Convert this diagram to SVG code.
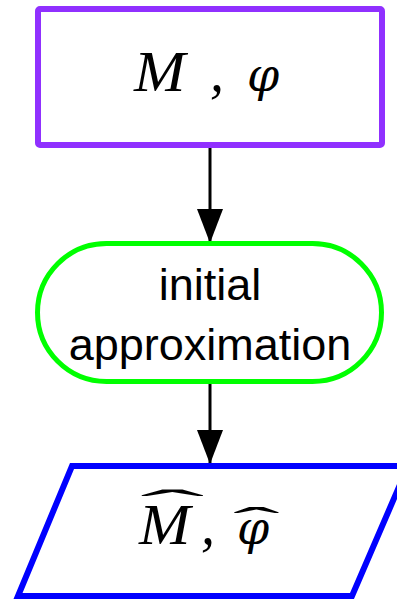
<svg xmlns="http://www.w3.org/2000/svg" width="397" height="603" viewBox="0 0 397 603">
  <defs>
    <marker id="arrow" markerWidth="34" markerHeight="26" refX="34" refY="13" orient="auto" markerUnits="userSpaceOnUse" viewBox="0 0 34 26">
      <path d="M0,0 L34,13 L0,26 Z" fill="#000"/>
    </marker>
  </defs>
  <style>
    .math { font-family: "Liberation Serif", "DejaVu Serif", serif; font-style: italic; fill: #000; }
    .phi { font-family: "DejaVu Serif", serif; font-style: italic; fill: #000; }
    .hat { font-family: "Liberation Serif", serif; fill: #000; }
    .label { font-family: "Liberation Sans", Arial, sans-serif; font-size: 45px; fill: #000; text-anchor: middle; }
    .edge { stroke: #000; stroke-width: 3; fill: none; }
  </style>
  <rect width="397" height="603" fill="#fff"/>

  <g id="connectors">
    <line class="edge" x1="210" y1="148" x2="210" y2="243" marker-end="url(#arrow)"/>
    <line class="edge" x1="210" y1="384" x2="210" y2="464" marker-end="url(#arrow)"/>
  </g>

  <g id="input">
    <rect x="38" y="9" width="344" height="136" rx="2" fill="#fff" stroke="#9030ff" stroke-width="6"/>
    <text class="math" transform="translate(134,91) scale(1.1,1)" font-size="56">M</text>
    <text class="math" x="210" y="91" font-size="56">,</text>
    <text class="phi" x="247" y="91" font-size="46">φ</text>
  </g>

  <g id="approx">
    <rect x="37.5" y="243.5" width="344" height="138" rx="69" ry="69" fill="#fff" stroke="#00ff00" stroke-width="5"/>
    <text class="label" x="210" y="300">initial</text>
    <text class="label" x="210" y="360">approximation</text>
  </g>

  <g id="estimate">
    <polygon points="72,466 408,466 352,596 18,596" fill="#fff" stroke="#0000ff" stroke-width="6"/>
    <text class="math" transform="translate(139,544) scale(1.1,1)" font-size="56">M</text>
    <text class="math" x="201" y="544" font-size="56">,</text>
    <text class="phi" x="237" y="544" font-size="46">φ</text>
    <text class="hat" transform="translate(140,520) scale(4.4,1)" font-size="44">ˆ</text>
    <text class="hat" transform="translate(233,535) scale(3.5,1)" font-size="40">ˆ</text>
  </g>
</svg>
